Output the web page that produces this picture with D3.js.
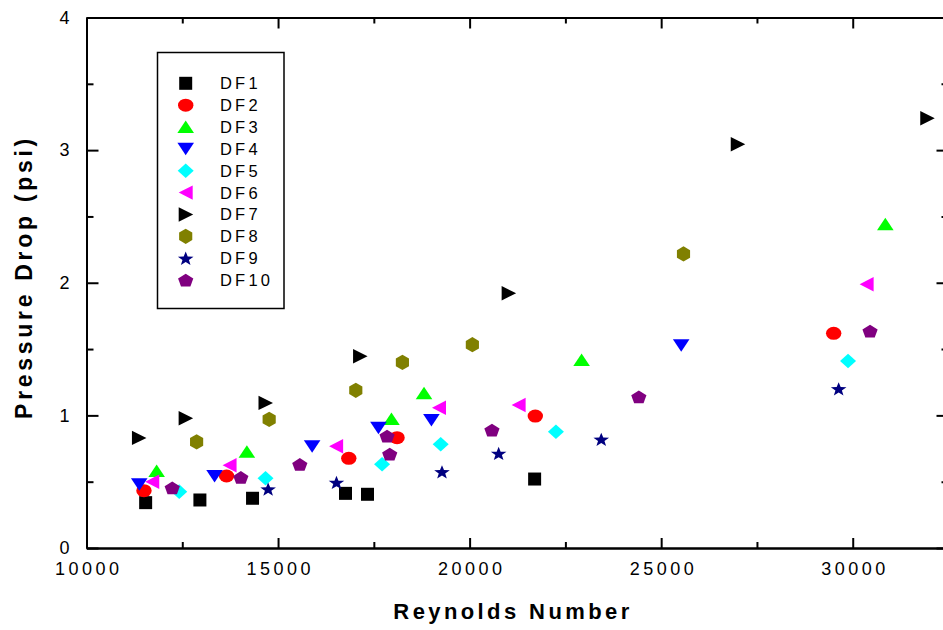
<!DOCTYPE html>
<html><head><meta charset="utf-8">
<script src="https://cdn.jsdelivr.net/npm/d3@7"></script>
<style>
html,body{margin:0;padding:0;background:#fff;}
svg{display:block;font-family:"Liberation Sans",Arial,sans-serif;}
</style></head>
<body>
<svg id="chart" width="943" height="630"></svg>
<script>
// ---- data ----
const seriesNames = ["DF1","DF2","DF3","DF4","DF5","DF6","DF7","DF8","DF9","DF10"];
const DF1 = [[11544,0.342],[12960,0.362],[14334,0.375],[16760,0.412],[17334,0.405],[21697,0.52]];
const DF2 = [[11500,0.432],[13656,0.543],[16846,0.676],[18106,0.832],[21715,0.995],[29503,1.619]];
const DF3 = [[11831,0.58],[14186,0.726],[17960,0.973],[18810,1.167],[22923,1.418],[30851,2.441]];
const DF4 = [[11377,0.48],[13343,0.543],[15889,0.767],[17620,0.907],[19003,0.965],[25523,1.529]];
const DF5 = [[12420,0.425],[14673,0.526],[17715,0.631],[19245,0.782],[22253,0.877],[29878,1.41]];
const DF6 = [[11716,0.5],[13735,0.624],[16515,0.767],[19201,1.058],[21280,1.078],[30363,1.989]];
const DF7 = [[11369,0.83],[12587,0.978],[14673,1.094],[17141,1.446],[21019,1.921],[26999,3.044],[31946,3.24]];
const DF8 = [[12874,0.80],[14768,0.97],[17029,1.189],[18246,1.40],[20072,1.533],[25583,2.217]];
const DF9 = [[14741,0.445],[16525,0.495],[19279,0.575],[20758,0.714],[23436,0.82],[29633,1.201]];
const DF10 = [[12238,0.455],[14029,0.533],[15568,0.631],[17915,0.709],[17845,0.845],[20583,0.89],[24417,1.141],[30452,1.637]];
const seriesValues = [DF1,DF2,DF3,DF4,DF5,DF6,DF7,DF8,DF9,DF10];
const xMajorTicks = [10000,15000,20000,25000,30000];
const xMinorTicks = [12500,17500,22500,27500,32500];
const yMajorTicks = [0,1,2,3,4];
const yMinorTicks = [0.5,1.5,2.5,3.5];
const xTitle = "Reynolds Number";
const yTitle = "Pressure Drop (psi)";

// ---- styles ----
const colors = ["#000000","#ff0000","#00ff00","#0000ff","#00ffff","#ff00ff","#000000","#808000","#000080","#800080"];
function poly(pts){ return "M" + pts.map(p=>p[0].toFixed(2)+","+p[1].toFixed(2)).join("L") + "Z"; }
function regular(n, r, rot){ const a=[]; for(let i=0;i<n;i++){ const t=rot+i*2*Math.PI/n; a.push([r*Math.cos(t), r*Math.sin(t)]);} return a; }
const shapes = [
  () => poly([[-6.5,-6.5],[6.5,-6.5],[6.5,6.5],[-6.5,6.5]]),
  () => "M-7.7,0A7.7,6.5 0 1,0 7.7,0A7.7,6.5 0 1,0 -7.7,0Z",
  () => poly([[0,-6.5],[8.3,6],[-8.3,6]]),
  () => poly([[0,6.5],[8.3,-6],[-8.3,-6]]),
  () => poly([[0,-7.3],[8,0],[0,7.3],[-8,0]]),
  () => poly([[-7,0],[7,-7.2],[7,7.2]]),
  () => poly([[7.5,0],[-7,-7.2],[-7,7.2]]),
  () => poly(regular(6, 7.6, -Math.PI/2)),
  () => { const a=[]; for(let i=0;i<10;i++){ const r = i%2===0 ? 8.2 : 3.4; const t=-Math.PI/2 + i*Math.PI/5; a.push([r*Math.cos(t), 0.9*r*Math.sin(t)+0.8]);} return poly(a); },
  () => poly(regular(5, 8, -Math.PI/2).map(p=>[p[0],0.88*p[1]+0.8]))
];

const svg = d3.select("#chart");
const x = d3.scaleLinear().domain([10000,32500]).range([86.5,948.5]);
const y = d3.scaleLinear().domain([0,4]).range([548,17.5]);
const X0 = x.range()[0], X1 = x.range()[1], Y0 = y.range()[0], Y1 = y.range()[1];

function styleAxis(g){
  g.selectAll("path.domain").attr("stroke","#000").attr("stroke-width",2);
  g.selectAll(".tick line").attr("stroke","#000").attr("stroke-width",2);
}
// bottom
svg.append("g").attr("transform",`translate(0,${Y0})`)
  .call(d3.axisBottom(x).tickValues(xMajorTicks).tickSizeInner(-10).tickSizeOuter(0).tickPadding(14).tickFormat(d3.format("d")))
  .call(styleAxis)
  .call(g=>g.selectAll("text").attr("font-size",18).attr("fill","#000").attr("letter-spacing","3.5px")
        .attr("font-family","'Liberation Sans',Arial,sans-serif").attr("dx","1.75"));
svg.append("g").attr("transform",`translate(0,${Y0})`)
  .call(d3.axisBottom(x).tickValues(xMinorTicks).tickSizeInner(-6).tickSizeOuter(0).tickFormat(""))
  .call(styleAxis);
// top
svg.append("g").attr("transform",`translate(0,${Y1})`)
  .call(d3.axisTop(x).tickValues(xMajorTicks).tickSizeInner(-11).tickSizeOuter(0).tickFormat(""))
  .call(styleAxis);
svg.append("g").attr("transform",`translate(0,${Y1})`)
  .call(d3.axisTop(x).tickValues(xMinorTicks).tickSizeInner(-6).tickSizeOuter(0).tickFormat(""))
  .call(styleAxis);
// left
svg.append("g").attr("transform",`translate(${X0},0)`)
  .call(d3.axisLeft(y).tickValues(yMajorTicks).tickSizeInner(-12).tickSizeOuter(0).tickPadding(17).tickFormat(d3.format("d")))
  .call(styleAxis)
  .call(g=>g.selectAll("text").attr("font-size",18).attr("fill","#000")
        .attr("font-family","'Liberation Sans',Arial,sans-serif"));
svg.append("g").attr("transform",`translate(${X0},0)`)
  .call(d3.axisLeft(y).tickValues(yMinorTicks).tickSizeInner(-7).tickSizeOuter(0).tickFormat(""))
  .call(styleAxis);
// right
svg.append("g").attr("transform",`translate(${X1},0)`)
  .call(d3.axisRight(y).tickValues(yMajorTicks).tickSizeInner(-12).tickSizeOuter(0).tickFormat(""))
  .call(styleAxis);
svg.append("g").attr("transform",`translate(${X1},0)`)
  .call(d3.axisRight(y).tickValues(yMinorTicks).tickSizeInner(-7).tickSizeOuter(0).tickFormat(""))
  .call(styleAxis);

// titles
svg.append("text").attr("x",513).attr("y",619).attr("text-anchor","middle")
  .attr("font-size",22).attr("font-weight","bold").attr("letter-spacing","3.4px").text(xTitle);
svg.append("text").attr("transform","translate(32,277) rotate(-90)").attr("text-anchor","middle")
  .attr("font-size",23).attr("font-weight","bold").attr("letter-spacing","3.7px").text(yTitle);

// points
seriesValues.forEach((vals,i)=>{
  svg.append("g").selectAll("path").data(vals).join("path")
    .attr("d", shapes[i]())
    .attr("transform", d=>`translate(${x(d[0])},${y(d[1])})`)
    .attr("fill", colors[i]);
});

// legend
const lg = svg.append("g");
lg.append("rect").attr("x",157.5).attr("y",52.5).attr("width",126.5).attr("height",256)
  .attr("fill","none").attr("stroke","#000").attr("stroke-width",1.5);
const ly = d3.scaleLinear().domain([0,9]).range([83.3,280]);
seriesNames.forEach((n,i)=>{
  lg.append("path").attr("d",shapes[i]()).attr("transform",`translate(185.7,${ly(i)})`).attr("fill",colors[i]);
  lg.append("text").attr("x",220).attr("y",ly(i)).attr("dy","0.36em").attr("font-size",16.5)
    .attr("letter-spacing","3.2px").attr("fill","#000").text(n);
});
</script>
</body></html>
